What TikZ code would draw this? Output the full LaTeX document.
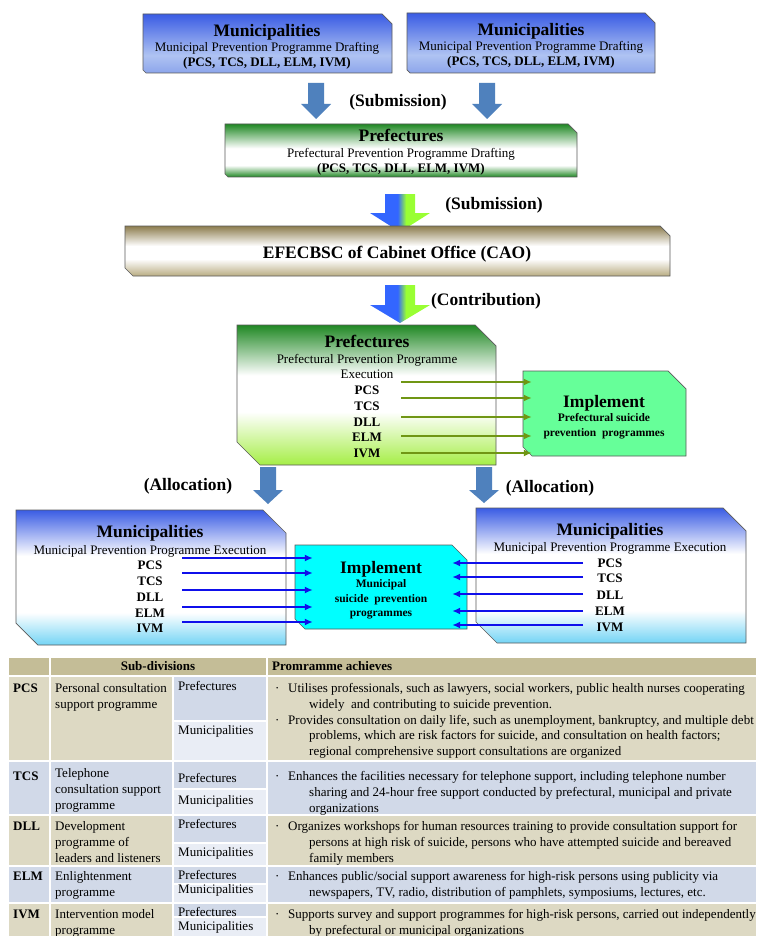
\documentclass[tikz,border=0pt]{standalone}
\usepackage{fontspec}
\setmainfont{Liberation Serif}
\usetikzlibrary{arrows.meta,calc}
\definecolor{arrblue}{RGB}{79,129,189}
\definecolor{mblue}{RGB}{58,92,228}
\definecolor{mmid}{RGB}{175,195,242}
\definecolor{mbot}{RGB}{140,165,235}
\definecolor{dgreen}{RGB}{32,136,36}
\definecolor{lgreen}{RGB}{165,238,70}
\definecolor{khakid}{RGB}{140,124,78}
\definecolor{khakil}{RGB}{185,172,130}
\definecolor{skyb}{RGB}{115,212,245}
\definecolor{gblue}{RGB}{51,102,255}
\definecolor{ggreen}{RGB}{153,255,51}
\definecolor{impgreen}{RGB}{102,255,153}
\definecolor{impcyan}{RGB}{0,255,255}
\definecolor{larrgreen}{RGB}{112,150,20}
\definecolor{larrblue}{RGB}{15,15,235}
\definecolor{hdr}{RGB}{196,189,151}
\definecolor{rowtan}{RGB}{221,217,195}
\definecolor{rowblue}{RGB}{209,217,232}
\definecolor{rowlight}{RGB}{233,237,245}
\definecolor{edgegray}{RGB}{90,90,90}
\pgfdeclareverticalshading{mdraft}{100bp}{color(0bp)=(mbot); color(25bp)=(mbot); color(40bp)=(mmid); color(75bp)=(mblue); color(100bp)=(mblue)}
\pgfdeclareverticalshading{gdraft}{100bp}{color(0bp)=(dgreen); color(25bp)=(dgreen); color(36bp)=(white); color(52bp)=(white); color(75bp)=(dgreen); color(100bp)=(dgreen)}
\pgfdeclareverticalshading{kdraft}{100bp}{color(0bp)=(khakil); color(25bp)=(khakil); color(42bp)=(white); color(55bp)=(white); color(75bp)=(khakid); color(100bp)=(khakid)}
\pgfdeclareverticalshading{gexec}{100bp}{color(0bp)=(lgreen); color(25bp)=(lgreen); color(44bp)=(white); color(57bp)=(white); color(75bp)=(dgreen); color(100bp)=(dgreen)}
\pgfdeclareverticalshading{mexec}{100bp}{color(0bp)=(skyb); color(25bp)=(skyb); color(37bp)=(white); color(58bp)=(white); color(75bp)=(mblue); color(100bp)=(mblue)}
\pgfdeclarehorizontalshading{garr}{100bp}{color(0bp)=(gblue); color(48bp)=(gblue); color(55bp)=(ggreen); color(100bp)=(ggreen)}
% name, x1, y1, x2, y2, top-right snip, bottom-left snip, style
\newcommand\snipbox[8]{%
  \path[#8] ({#2},{#3}) -- ({#4-#6},{#3}) -- ({#4},{#3+#6}) -- ({#4},{#5}) -- ({#2+#7},{#5}) -- ({#2},{#5-#7}) -- cycle;
  \node[inner sep=0pt, minimum width={#4-#2}, minimum height={#5-#3}] (#1) at ({(#2+#4)/2},{(#3+#5)/2}) {};}
% cx, y0, yhead, ytip, shaft half width, head half width, style
\newcommand\blockarrow[7]{%
  \path[#7] ({#1-#5},{#2}) -- ({#1+#5},{#2}) -- ({#1+#5},{#3}) -- ({#1+#6},{#3}) -- ({#1},{#4}) -- ({#1-#6},{#3}) -- ({#1-#5},{#3}) -- cycle;}
\newcommand\tbul{\makebox[10pt]{·}\hspace{6pt}}
\newcommand\tind{\hspace*{37pt}}
\begin{document}
\begin{tikzpicture}[x=1pt,y=-1pt,
  hd/.style={font=\fontsize{17.5}{20}\selectfont\bfseries, text height=12.3pt, text depth=0pt, inner sep=0pt},
  sub/.style={font=\fontsize{13}{15}\selectfont, text height=9.1pt, text depth=0pt, inner sep=0pt},
  subb/.style={font=\fontsize{13}{15}\selectfont\bfseries, text height=9.1pt, text depth=0pt, inner sep=0pt},
  imp/.style={font=\fontsize{11.5}{13}\selectfont\bfseries, text height=8pt, text depth=0pt, inner sep=0pt},
  boxline/.style={draw=edgegray, line width=0.7pt},
  garrow/.style={draw=larrgreen, line width=1.6pt, -{Latex[length=8pt,width=7pt]}},
  barrow/.style={draw=larrblue, line width=1.6pt, -{Latex[length=8pt,width=7pt]}},
  tcell/.style={draw=white, line width=1.3pt},
  tc/.style={font=\fontsize{13}{15.7}\selectfont, anchor=west, text height=9pt, text depth=0pt, inner sep=0pt},
  tcb/.style={tc, font=\fontsize{13}{15.7}\selectfont\bfseries},
  tbm/.style={font=\fontsize{13}{15.7}\selectfont, anchor=north west, inner sep=0pt, align=left}
]
\useasboundingbox (0,0) rectangle (757,936);
\clip (0,0) rectangle (757,936);
\fill[white] (0,0) rectangle (757,936);

% ---------- top municipalities ----------
\snipbox{mA}{143}{14}{392}{73}{10}{3}{shading=mdraft, boxline}
\node[hd] (mAt) at (267,30) {Municipalities};
\node[sub] (mAs) at (267,47) {Municipal Prevention Programme Drafting};
\node[subb] (mAc) at (267,62) {(PCS, TCS, DLL, ELM, IVM)};

\snipbox{mB}{407}{13}{655}{73}{10}{3}{shading=mdraft, boxline}
\node[hd] (mBt) at (531,29) {Municipalities};
\node[sub] (mBs) at (531,46) {Municipal Prevention Programme Drafting};
\node[subb] (mBc) at (531,61) {(PCS, TCS, DLL, ELM, IVM)};

\blockarrow{316}{83}{104}{119}{8}{15}{fill=arrblue}
\blockarrow{487}{83}{104}{119}{8}{15}{fill=arrblue}
\node[hd] (sub1) at (398,100) {(Submission)};

% ---------- prefectures drafting ----------
\snipbox{pD}{225}{124}{577}{177}{9}{3}{shading=gdraft, boxline}
\node[hd] (pDt) at (401,135) {Prefectures};
\node[sub] (pDs) at (401,153) {Prefectural Prevention Programme Drafting};
\node[subb] (pDc) at (401,168) {(PCS, TCS, DLL, ELM, IVM)};

\blockarrow{400}{194}{213}{232}{15}{30}{shading=garr}
\node[hd] (sub2) at (494,203) {(Submission)};

% ---------- CAO ----------
\snipbox{cao}{125}{226}{670}{276}{10}{8}{shading=kdraft, boxline}
\node[hd] (caot) at (397,252) {EFECBSC of Cabinet Office (CAO)};

\blockarrow{400}{285}{305}{323}{15}{30}{shading=garr}
\node[hd] (contr) at (486,299) {(Contribution)};

% ---------- prefectures execution ----------
\snipbox{pE}{237}{325}{496}{465}{21}{23}{shading=gexec, boxline}
\node[hd] (pEt) at (367,341) {Prefectures};
\node[sub] (pEs) at (367,359) {Prefectural Prevention Programme};
\node[sub] (pEx) at (367,374) {Execution};
\node[subb] (pE1) at (367,390) {PCS};
\node[subb] (pE2) at (367,406) {TCS};
\node[subb] (pE3) at (367,422) {DLL};
\node[subb] (pE4) at (367,437) {ELM};
\node[subb] (pE5) at (367,453) {IVM};

\snipbox{pI}{523}{371}{686}{456}{18}{9}{fill=impgreen, boxline}
\node[hd] (pIt) at (604,401) {Implement};
\node[imp] (pI1) at (604,417) {Prefectural suicide};
\node[imp] (pI2) at (604,432) {prevention\ \ programmes};

\coordinate (ga1) at (401,382);
\coordinate (ga2) at (401,398);
\coordinate (ga3) at (401,417);
\coordinate (ga4) at (401,436);
\coordinate (ga5) at (401,453);
\foreach \i in {1,...,5} {\draw[garrow] (ga\i) -- ($(ga\i -| pI.west)+(9,0)$);}

% ---------- allocation ----------
\blockarrow{268}{467}{490}{504}{8}{15}{fill=arrblue}
\blockarrow{484}{467}{490}{503}{8}{15}{fill=arrblue}
\node[hd] (allL) at (188,484) {(Allocation)};
\node[hd] (allR) at (550,486) {(Allocation)};

% ---------- municipalities execution ----------
\snipbox{mL}{16}{510}{286}{645}{23}{22}{shading=mexec, boxline}
\node[hd] (mLt) at (150,531) {Municipalities};
\node[sub] (mLs) at (150,550) {Municipal Prevention Programme Execution};
\node[subb] (mL1) at (150,565) {PCS};
\node[subb] (mL2) at (150,581) {TCS};
\node[subb] (mL3) at (150,597) {DLL};
\node[subb] (mL4) at (150,613) {ELM};
\node[subb] (mL5) at (150,628) {IVM};

\snipbox{mR}{476}{508}{746}{643}{23}{21}{shading=mexec, boxline}
\node[hd] (mRt) at (610,529) {Municipalities};
\node[sub] (mRs) at (610,547) {Municipal Prevention Programme Execution};
\node[subb] (mR1) at (610,563) {PCS};
\node[subb] (mR2) at (610,578) {TCS};
\node[subb] (mR3) at (610,595) {DLL};
\node[subb] (mR4) at (610,611) {ELM};
\node[subb] (mR5) at (610,627) {IVM};

\snipbox{mI}{295}{545}{467}{629}{15}{10}{fill=impcyan, boxline}
\node[hd] (mIt) at (381,567) {Implement};
\node[imp] (mI1) at (381,583) {Municipal};
\node[imp] (mI2) at (381,598) {suicide\ \ prevention};
\node[imp] (mI3) at (381,612) {programmes};

\coordinate (bl1) at (182,558);
\coordinate (bl2) at (182,573);
\coordinate (bl3) at (182,590);
\coordinate (bl4) at (182,607);
\coordinate (bl5) at (182,622);
\coordinate (br1) at (583,563);
\coordinate (br2) at (583,577);
\coordinate (br3) at (583,594);
\coordinate (br4) at (583,611);
\coordinate (br5) at (583,625);
\foreach \i in {1,...,5} {
  \draw[barrow] (bl\i) -- ($(bl\i -| mI.west)+(18,0)$);
  \draw[barrow] (br\i) -- ($(br\i -| mI.east)+(-15,0)$);
}

% ---------- table ----------
\path[tcell, fill=hdr] (8,657) rectangle (50,676);
\path[tcell, fill=hdr] (50,657) rectangle (267,676);
\path[tcell, fill=hdr] (267,657) rectangle (757,676);
% PCS
\path[tcell, fill=rowtan] (8,676) rectangle (50,761);
\path[tcell, fill=rowtan] (50,676) rectangle (173,761);
\path[tcell, fill=rowblue] (173,676) rectangle (267,721);
\path[tcell, fill=rowlight] (173,721) rectangle (267,761);
\path[tcell, fill=rowtan] (267,676) rectangle (757,761);
% TCS
\path[tcell, fill=rowblue] (8,761) rectangle (50,815);
\path[tcell, fill=rowblue] (50,761) rectangle (173,815);
\path[tcell, fill=rowblue] (173,761) rectangle (267,789);
\path[tcell, fill=rowlight] (173,789) rectangle (267,815);
\path[tcell, fill=rowblue] (267,761) rectangle (757,815);
% DLL
\path[tcell, fill=rowtan] (8,815) rectangle (50,866);
\path[tcell, fill=rowtan] (50,815) rectangle (173,866);
\path[tcell, fill=rowblue] (173,815) rectangle (267,843);
\path[tcell, fill=rowlight] (173,843) rectangle (267,866);
\path[tcell, fill=rowtan] (267,815) rectangle (757,866);
% ELM
\path[tcell, fill=rowblue] (8,866) rectangle (50,903);
\path[tcell, fill=rowblue] (50,866) rectangle (173,903);
\path[tcell, fill=rowblue] (173,866) rectangle (267,884);
\path[tcell, fill=rowlight] (173,884) rectangle (267,903);
\path[tcell, fill=rowblue] (267,866) rectangle (757,903);
% IVM
\path[tcell, fill=rowtan] (8,903) rectangle (50,945);
\path[tcell, fill=rowtan] (50,903) rectangle (173,945);
\path[tcell, fill=rowblue] (173,903) rectangle (267,917);
\path[tcell, fill=rowlight] (173,917) rectangle (267,945);
\path[tcell, fill=rowtan] (267,903) rectangle (757,945);

\node[tcb, anchor=center] (hSub) at (158,666) {Sub-divisions};
\node[tcb] (hAch) at (272,666) {Promramme achieves};

\node[tcb] (c1a) at (13,688) {PCS};
\node[tcb] (c1b) at (13,776) {TCS};
\node[tcb] (c1c) at (13,826) {DLL};
\node[tcb] (c1d) at (13,876) {ELM};
\node[tcb] (c1e) at (13,914) {IVM};

\node[tbm] (c2a) at (55,683.4) {Personal consultation\\support programme};
\node[tbm] (c2b) at (55,768.4) {Telephone\\consultation support\\programme};
\node[tbm] (c2c) at (55,821.4) {Development\\programme of\\leaders and listeners};
\node[tbm] (c2d) at (55,871.4) {Enlightenment\\programme};
\node[tbm] (c2e) at (55,909.4) {Intervention model\\programme};

\node[tc] (c3a1) at (178,686) {Prefectures};
\node[tc] (c3a2) at (178,730) {Municipalities};
\node[tc] (c3b1) at (178,778) {Prefectures};
\node[tc] (c3b2) at (178,800) {Municipalities};
\node[tc] (c3c1) at (178,824) {Prefectures};
\node[tc] (c3c2) at (178,852) {Municipalities};
\node[tc] (c3d1) at (178,875) {Prefectures};
\node[tc] (c3d2) at (178,889) {Municipalities};
\node[tc] (c3e1) at (178,912) {Prefectures};
\node[tc] (c3e2) at (178,926) {Municipalities};

\node[tbm] (c4a) at (272,683.4) {\tbul Utilises professionals, such as lawyers, social workers, public health nurses cooperating\\\tind widely\ \ and contributing to suicide prevention.\\\tbul Provides consultation on daily life, such as unemployment, bankruptcy, and multiple debt\\\tind problems, which are risk factors for suicide, and consultation on health factors;\\\tind regional comprehensive support consultations are organized};
\node[tbm] (c4b) at (272,771.4) {\tbul Enhances the facilities necessary for telephone support, including telephone number\\\tind sharing and 24-hour free support conducted by prefectural, municipal and private\\\tind organizations};
\node[tbm] (c4c) at (272,821.4) {\tbul Organizes workshops for human resources training to provide consultation support for\\\tind persons at high risk of suicide, persons who have attempted suicide and bereaved\\\tind family members};
\node[tbm] (c4d) at (272,871.4) {\tbul Enhances public/social support awareness for high-risk persons using publicity via\\\tind newspapers, TV, radio, distribution of pamphlets, symposiums, lectures, etc.};
\node[tbm] (c4e) at (272,909.4) {\tbul Supports survey and support programmes for high-risk persons, carried out independently\\\tind by prefectural or municipal organizations};
\end{tikzpicture}
\end{document}
